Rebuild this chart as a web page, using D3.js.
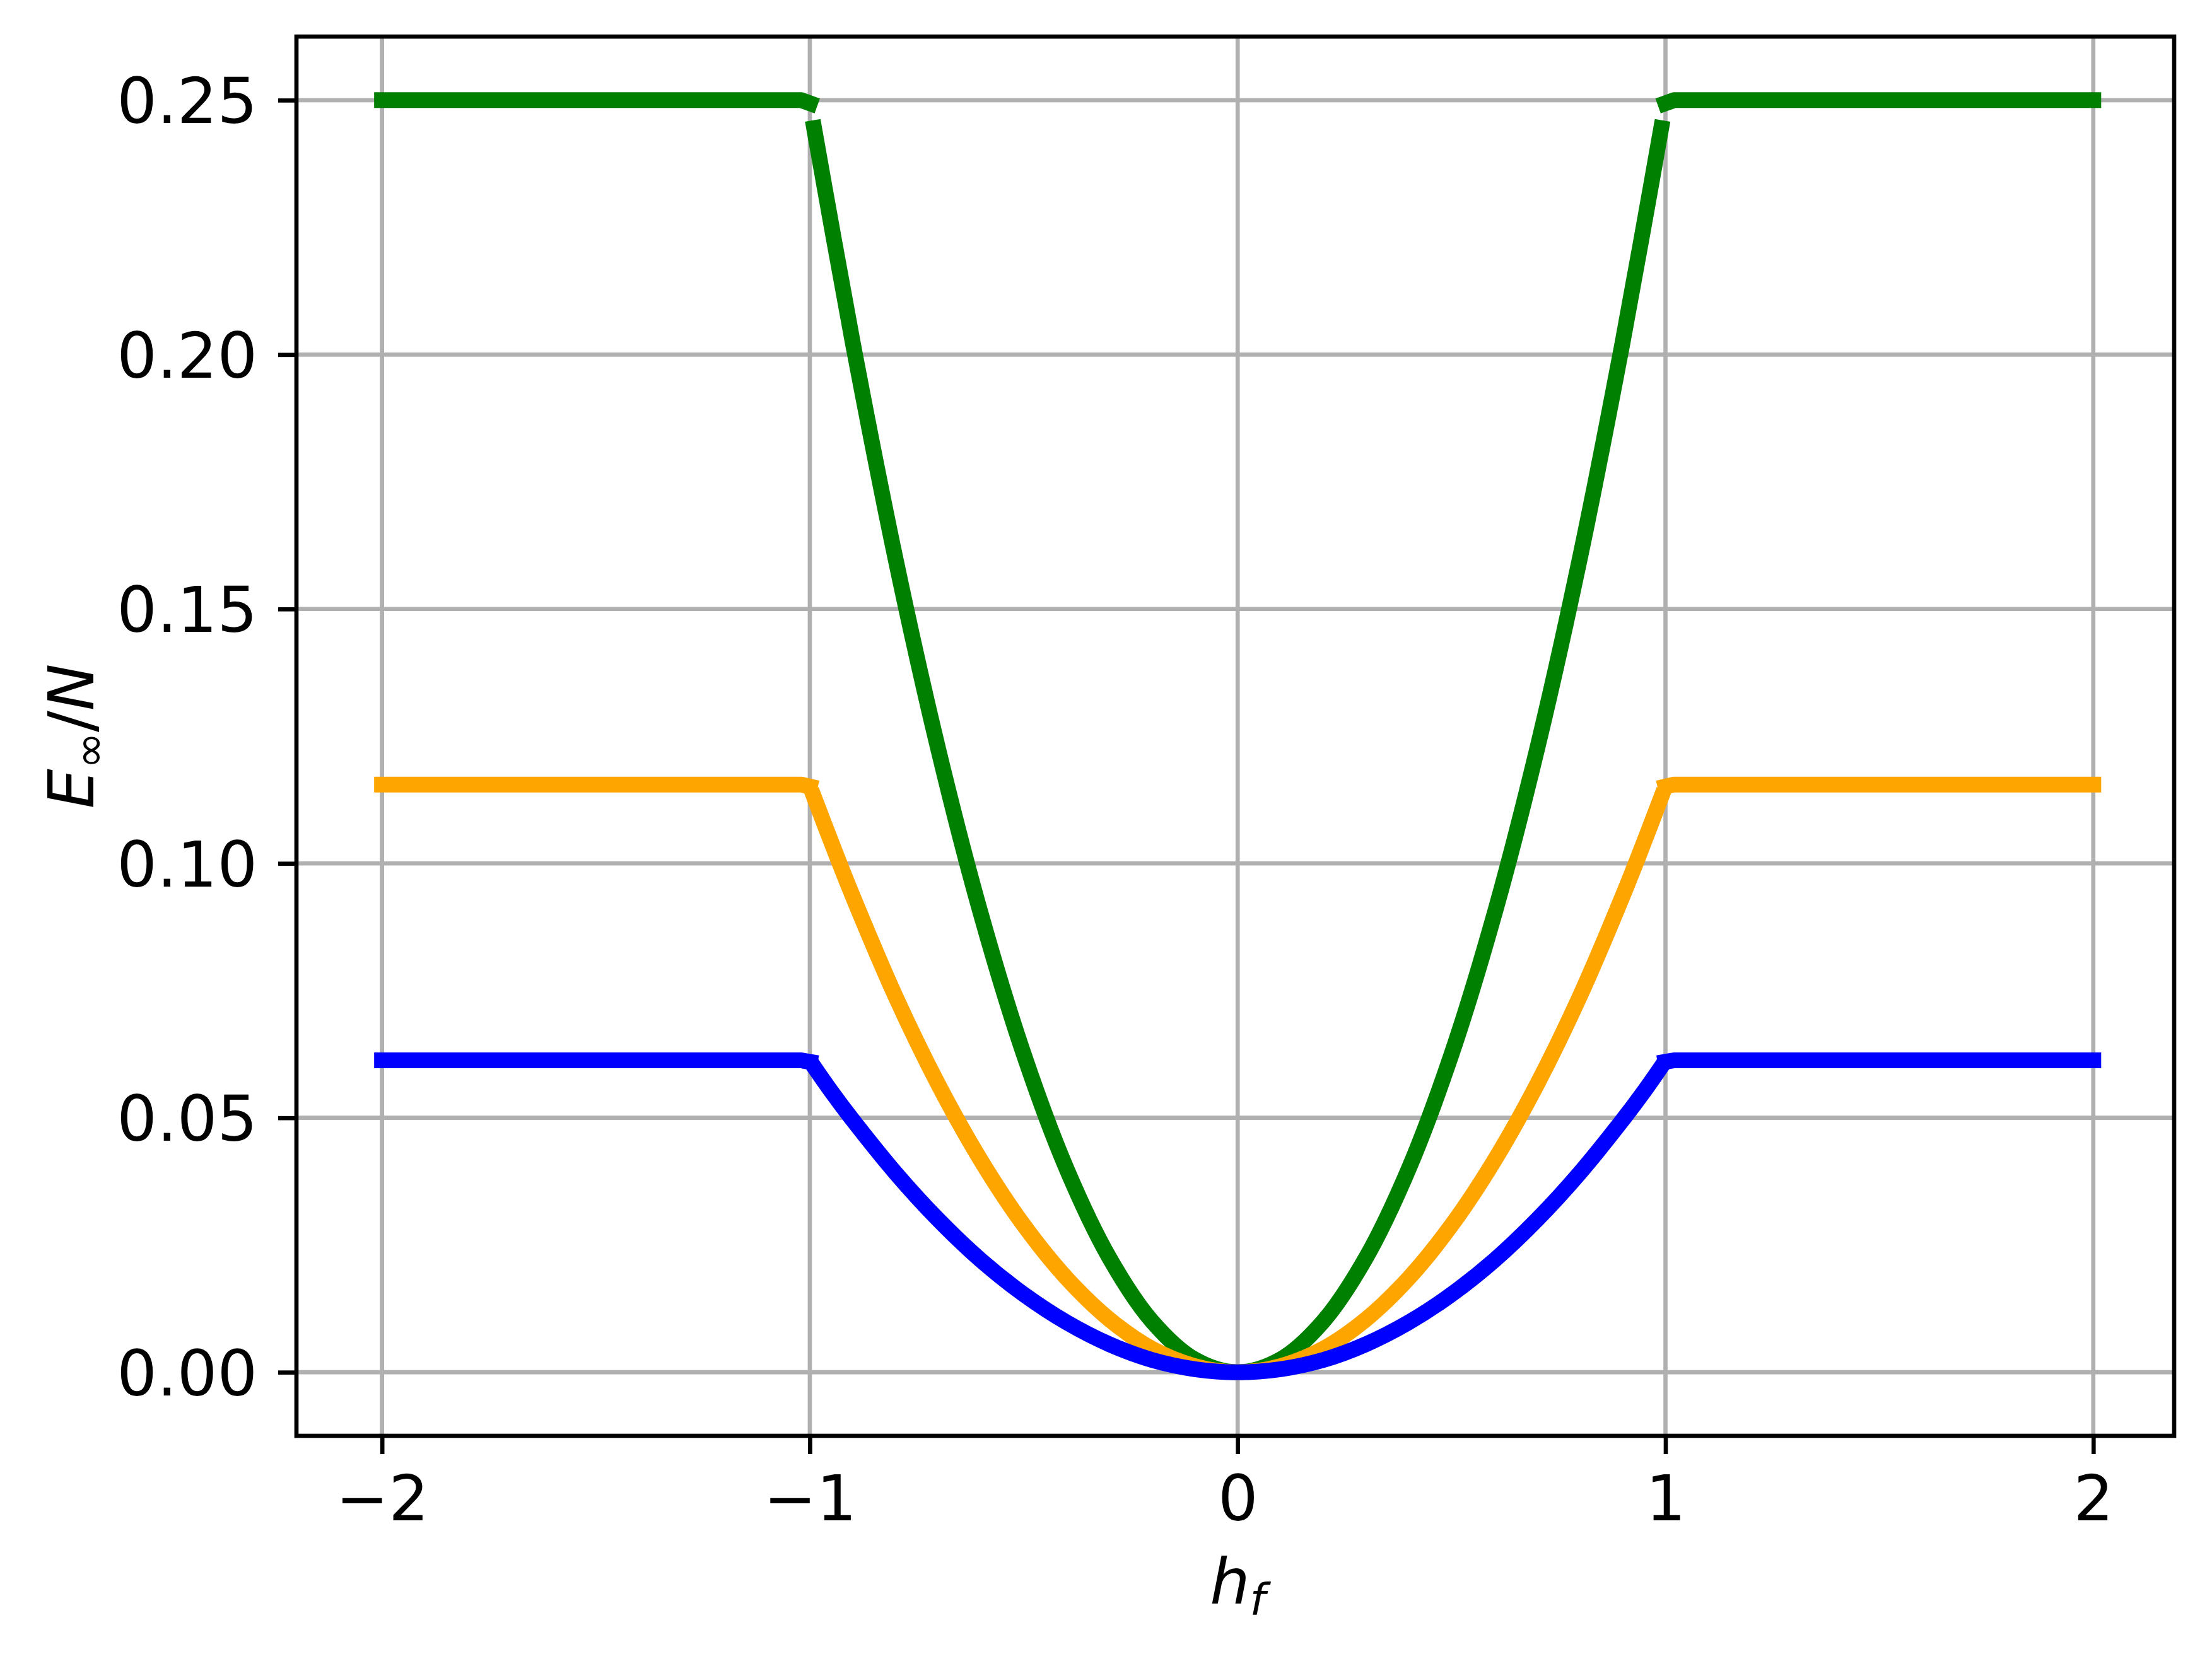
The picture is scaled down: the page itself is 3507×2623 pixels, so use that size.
<!DOCTYPE html>
<html>
<head>
<meta charset="utf-8">
<script src="https://cdn.jsdelivr.net/npm/d3@7"></script>
<style>
  body { margin: 0; background: #fff; }
  text { font-family: 'DejaVu Sans', sans-serif; }
</style>
</head>
<body>
<script>
// h_f values of the curved part (|h_f| < 1)
const hCurve = [-0.99, -0.95, -0.9, -0.8, -0.7, -0.6, -0.5, -0.4, -0.3, -0.2, -0.1, 0,
  0.1, 0.2, 0.3, 0.4, 0.5, 0.6, 0.7, 0.8, 0.9, 0.95, 0.99];
const greenCurve = [0.2445, 0.2256, 0.2025, 0.160, 0.1225, 0.090, 0.0625, 0.040, 0.0225, 0.010, 0.0025, 0,
  0.0025, 0.010, 0.0225, 0.040, 0.0625, 0.090, 0.1225, 0.160, 0.2025, 0.2256, 0.2445];
const orangeCurve = [0.1130, 0.1042, 0.0936, 0.0739, 0.0566, 0.0416, 0.0289, 0.0185, 0.0104, 0.0046, 0.0012, 0,
  0.0012, 0.0046, 0.0104, 0.0185, 0.0289, 0.0416, 0.0566, 0.0739, 0.0936, 0.1042, 0.1130];
const blueCurve = [0.0600, 0.0552, 0.0496, 0.0392, 0.0300, 0.0220, 0.0153, 0.0098, 0.0055, 0.0024, 0.0006, 0,
  0.0006, 0.0024, 0.0055, 0.0098, 0.0153, 0.0220, 0.0300, 0.0392, 0.0496, 0.0552, 0.0600];

// flat parts (|h_f| >= 1)
const hLeft = [-2, -1.02, -1.0];
const hRight = [1.0, 1.02, 2];
const greenLeft = [0.25, 0.25, 0.2494];
const greenRight = [0.2494, 0.25, 0.25];
const orangeLeft = [0.1155, 0.1155, 0.1151];
const orangeRight = [0.1151, 0.1155, 0.1155];
const blueLeft = [0.0613, 0.0613, 0.0610];
const blueRight = [0.0610, 0.0613, 0.0613];

const xTicks = [-2, -1, 0, 1, 2];
const yTicks = [0, 0.05, 0.10, 0.15, 0.20, 0.25];

const W = 3507, H = 2623;
const margin = { top: 58, right: 60, bottom: 346, left: 470 };
const width = W - margin.left - margin.right;
const height = H - margin.top - margin.bottom;

const series = [
  { color: 'green', left: greenLeft, curve: greenCurve, right: greenRight },
  { color: 'orange', left: orangeLeft, curve: orangeCurve, right: orangeRight },
  { color: 'blue', left: blueLeft, curve: blueCurve, right: blueRight }
];

const xScale = d3.scaleLinear().domain([-2.2, 2.189]).range([0, width]);
const yScale = d3.scaleLinear().domain([-0.0125, 0.2625]).range([height, 0]);

const svg = d3.select('body')
  .append('svg')
  .attr('width', W)
  .attr('height', H)
  .append('g')
  .attr('transform', `translate(${margin.left}, ${margin.top})`);

// grid
svg.append('g').selectAll('line').data(xTicks).enter()
  .append('line')
  .attr('x1', d => xScale(d)).attr('x2', d => xScale(d))
  .attr('y1', 0).attr('y2', height)
  .attr('stroke', '#b0b0b0').attr('stroke-width', 6.67);
svg.append('g').selectAll('line').data(yTicks).enter()
  .append('line')
  .attr('y1', d => yScale(d)).attr('y2', d => yScale(d))
  .attr('x1', 0).attr('x2', width)
  .attr('stroke', '#b0b0b0').attr('stroke-width', 6.67);

// lines
const flatLine = d3.line().x(d => xScale(d[0])).y(d => yScale(d[1]));
const smoothLine = d3.line().x(d => xScale(d[0])).y(d => yScale(d[1])).curve(d3.curveCatmullRom);

series.forEach(s => {
  const pieces = [
    [flatLine, hLeft.map((h, i) => [h, s.left[i]])],
    [smoothLine, hCurve.map((h, i) => [h, s.curve[i]])],
    [flatLine, hRight.map((h, i) => [h, s.right[i]])]
  ];
  pieces.forEach(([gen, pts]) => {
    svg.append('path')
      .attr('d', gen(pts))
      .attr('fill', 'none')
      .attr('stroke', s.color)
      .attr('stroke-width', 25)
      .attr('stroke-linecap', 'square')
      .attr('stroke-linejoin', 'round');
  });
});

// axes
const xAxis = d3.axisBottom(xScale).tickValues(xTicks).tickSize(29).tickSizeOuter(0).tickPadding(34)
  .tickFormat(d3.format('d'));
const yAxis = d3.axisLeft(yScale).tickValues(yTicks).tickSize(29).tickSizeOuter(0).tickPadding(33)
  .tickFormat(d3.format('.2f'));

const gx = svg.append('g').attr('transform', `translate(0, ${height})`).call(xAxis);
const gy = svg.append('g').call(yAxis);
[gx, gy].forEach(g => {
  g.select('.domain').remove();
  g.selectAll('line').attr('stroke', '#000').attr('stroke-width', 6.67);
  g.selectAll('text').style('font-size', '100px').style('font-family', 'DejaVu Sans').attr('fill', '#000');
});
gy.selectAll('text').attr('dy', '0.36em');

svg.append('rect')
  .attr('x', 0).attr('y', 0).attr('width', width).attr('height', height)
  .attr('fill', 'none').attr('stroke', '#000').attr('stroke-width', 6.67);

// axis labels
const xl = svg.append('text')
  .attr('x', xScale(0))
  .attr('y', 2543 - margin.top)
  .style('font-size', '100px')
  .style('text-anchor', 'middle');
xl.append('tspan').style('font-style', 'italic').text('h');
xl.append('tspan').attr('dy', 18).style('font-style', 'italic').style('font-size', '70px').text('f');

const yl = svg.append('text')
  .attr('transform', `translate(${148 - margin.left}, ${height / 2}) rotate(-90)`)
  .style('font-size', '100px')
  .style('text-anchor', 'middle');
yl.append('tspan').style('font-style', 'italic').text('E');
yl.append('tspan').attr('dy', 18).style('font-size', '70px').text('∞');
yl.append('tspan').attr('dy', -18).text('/');
yl.append('tspan').style('font-style', 'italic').text('N');
</script>
</body>
</html>
